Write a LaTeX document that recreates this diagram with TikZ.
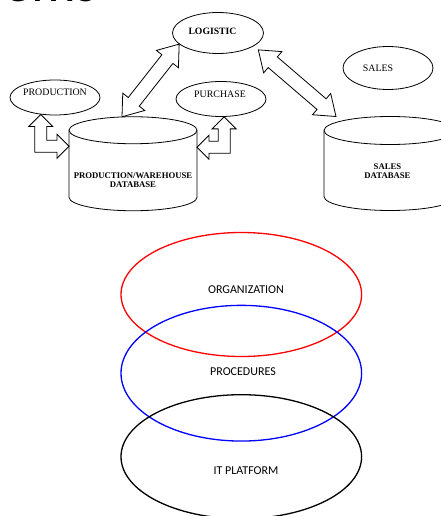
\documentclass[tikz,border=0pt]{standalone}
\usepackage{fontspec}
\setmainfont{Liberation Serif}
\newfontfamily\calibri{Carlito}
\usetikzlibrary{shapes.geometric,calc}

% hollow double-headed block arrow between two named points
\newcommand\dblarrow[2]{%
  \coordinate (da-a) at ($(#1)!19pt!(#2)$);
  \coordinate (da-b) at ($(#2)!19pt!(#1)$);
  \draw[blockarrow] (#1) -- ($(da-a)!14pt!90:(#2)$) -- ($(da-a)!7pt!90:(#2)$)
    -- ($(da-b)!7pt!-90:(#1)$) -- ($(da-b)!14pt!-90:(#1)$) -- (#2)
    -- ($(da-b)!14pt!90:(#1)$) -- ($(da-b)!7pt!90:(#1)$)
    -- ($(da-a)!7pt!-90:(#2)$) -- ($(da-a)!14pt!-90:(#2)$) -- cycle;
}
% hollow L-shaped double arrow: #1 upward tip, #2 sideways tip,
% #3 = 1 when the sideways tip points right, -1 when it points left
\newcommand\elbowarrow[3]{%
  \draw[blockarrow] (#1) -- ++({#3*12},12) -- ++({#3*(-6)},0)
    -- ($(#1 |- #2)+({#3*6},-6)$) -- ($(#2)+({#3*(-12)},-6)$) -- ++(0,-6)
    -- (#2) -- ++({#3*(-12)},12) -- ++(0,-6)
    -- ($(#1 |- #2)+({#3*(-6)},6)$) -- ($(#1)+({#3*(-6)},12)$)
    -- ++({#3*(-6)},0) -- cycle;
}
% database cylinder drawn around a rectangular node: #1 node, #2 x radius, #3 y radius
\newcommand\drawcyl[3]{%
  \draw[outline] ($(#1.north)+(0,#3)$) ellipse [x radius=#2pt, y radius=#3pt];
  \draw[outline] ($(#1.north west)+(0,#3)$) -- ($(#1.south west)+(0,-#3)$)
    arc[start angle=180, end angle=360, x radius=#2pt, y radius=#3pt]
    -- ($(#1.north east)+(0,#3)$);
}

\begin{document}
\begin{tikzpicture}[x=1pt,y=-1pt,
  outline/.style={draw=black, line width=0.8pt},
  oval/.style={ellipse, draw=black, line width=0.8pt, inner sep=0pt,
    minimum width=90pt, minimum height=35pt},
  dbbox/.style={rectangle, inner sep=0pt, outer sep=0pt, minimum height=94pt},
  lbl/.style={inner sep=0pt, font=\fontsize{9.9}{11}\selectfont},
  boldlbl/.style={lbl, font=\fontsize{9.7}{11}\selectfont\bfseries},
  dbtext/.style={inner sep=0pt, align=center, font=\fontsize{8.7}{9}\selectfont\bfseries},
  blockarrow/.style={draw=black, line width=0.8pt, fill=white, line join=miter},
  ring/.style={ellipse, line width=1.3pt, inner sep=0pt, minimum width=240.6pt},
  ringtext/.style={inner sep=0pt, font=\calibri\fontsize{12}{14}\selectfont}]
\useasboundingbox (0,0) rectangle (441,516);

% title text running off the top edge
\node[anchor=base west, inner sep=0pt, font=\calibri\fontsize{56}{60}\selectfont] (title) at (3,1.5) {ems};

% departments
\node[oval, minimum width=91pt, minimum height=41pt] (logistic) at (218,33) {};
\node[boldlbl] (logistictext) at ($(logistic)+(-5.5,-1.3)$) {LOGISTIC};
\node[oval, minimum height=43pt] (sales) at (388,68) {};
\node[lbl] (salestext) at ($(sales)+(-10,0)$) {SALES};
\node[oval] (prod) at (55,97.5) {};
\node[lbl] (prodtext) at ($(prod)+(0,-5.2)$) {PRODUCTION};
\node[oval] (purch) at (221,99) {};
\node[lbl] (purchtext) at ($(purch)+(-1,-5)$) {PURCHASE};

% databases
\node[dbbox, minimum width=128pt] (pdb) at (133,163.75) {};
\drawcyl{pdb}{64}{13.5}
\node[dbtext] (pdbtext) at ($(pdb)+(0,16.6)$) {PRODUCTION/WAREHOUSE\\DATABASE};
\node[dbbox, minimum width=132pt] (sdb) at (390,163.5) {};
\drawcyl{sdb}{66}{14}
\node[dbtext] (sdbtext) at ($(sdb)+(-2.5,8)$) {SALES\\DATABASE};

% data flows
\coordinate (pdbtop) at ($(pdb.north)+(-11,0)$);
\coordinate (logleft) at (logistic.196);
\dblarrow{pdbtop}{logleft}
\coordinate (logright) at ($(logistic.338)+(6,3)$);
\coordinate (sdbtop) at ($(sdb.north west)+(12,0)$);
\dblarrow{logright}{sdbtop}
\coordinate (prodfoot) at (prod.230);
\coordinate (pdbleft) at ($(pdb.north west)+(0,29.5)$);
\elbowarrow{prodfoot}{pdbleft}{1}
\coordinate (purchfoot) at (purch.280);
\coordinate (pdbright) at ($(pdb.north east)+(0,30.5)$);
\elbowarrow{purchfoot}{pdbright}{-1}

% layers
\node[ring, draw=red, minimum height=124pt] (org) at (241.3,294.5) {};
\node[ringtext] (orgtext) at ($(org)+(4.7,-5.2)$) {ORGANIZATION};
\node[ring, draw=blue, minimum height=135.7pt] (proc) at (241.3,373.2) {};
\node[ringtext] (proctext) at ($(proc)+(1.7,-1.9)$) {PROCEDURES};
\node[ring, draw=black, minimum height=124pt] (itp) at (241.3,456.7) {};
\node[ringtext] (itptext) at ($(itp)+(4.7,14)$) {IT PLATFORM};
\end{tikzpicture}
\end{document}
